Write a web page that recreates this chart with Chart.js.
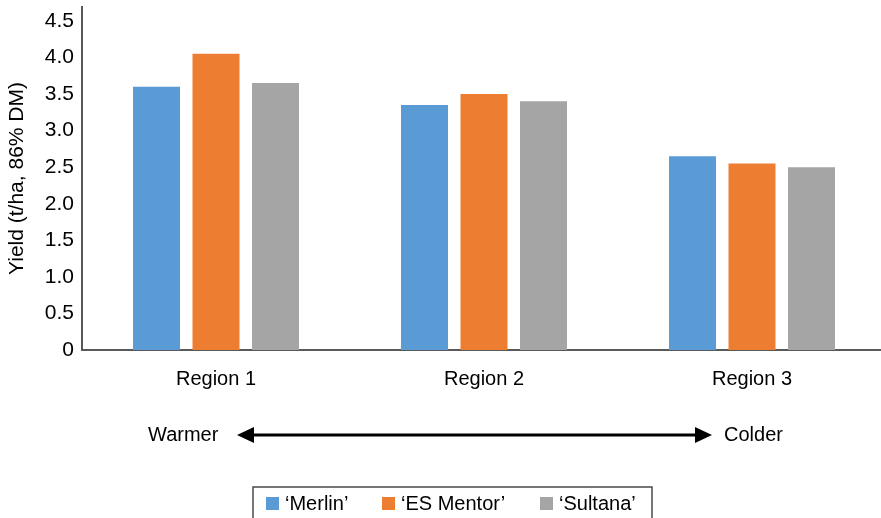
<!DOCTYPE html>
<html>
<head>
<meta charset="utf-8">
<script src="https://cdn.jsdelivr.net/npm/chart.js@4"></script>
<style>
html,body{margin:0;padding:0;overflow:hidden;background:#fff;}
#wrap{width:890px;height:518px;position:relative;}
</style>
</head>
<body>
<div id="wrap"><canvas id="c" width="890" height="518"></canvas></div>
<script>
const categories = ['Region 1', 'Region 2', 'Region 3'];
const seriesNames = ['\u2018Merlin\u2019', '\u2018ES Mentor\u2019', '\u2018Sultana\u2019'];
const merlin = [3.6, 3.35, 2.65];
const esMentor = [4.05, 3.5, 2.55];
const sultana = [3.65, 3.4, 2.5];
const yTicks = [0, 0.5, 1.0, 1.5, 2.0, 2.5, 3.0, 3.5, 4.0, 4.5];
const colors = ['#5B9BD5', '#ED7D31', '#A5A5A5'];
const FONT = '"Liberation Sans", Arial, Helvetica, sans-serif';

const extras = {
  id: 'extras',
  afterDraw(chart) {
    const ctx = chart.ctx;
    ctx.save();
    // Warmer <-> Colder arrow
    const ay = 435, x1 = 237, x2 = 712;
    ctx.strokeStyle = '#000'; ctx.fillStyle = '#000'; ctx.lineWidth = 3;
    ctx.beginPath(); ctx.moveTo(x1 + 12, ay); ctx.lineTo(x2 - 12, ay); ctx.stroke();
    ctx.beginPath(); ctx.moveTo(x1, ay); ctx.lineTo(x1 + 17, ay - 8); ctx.lineTo(x1 + 17, ay + 8); ctx.closePath(); ctx.fill();
    ctx.beginPath(); ctx.moveTo(x2, ay); ctx.lineTo(x2 - 17, ay - 8); ctx.lineTo(x2 - 17, ay + 8); ctx.closePath(); ctx.fill();
    ctx.font = '20px ' + FONT;
    ctx.textBaseline = 'middle';
    ctx.textAlign = 'left';
    ctx.fillText('Warmer', 148, ay);
    ctx.fillText('Colder', 724, ay);
    // Legend
    const lx = 253, ly = 487, lw = 399, lh = 40;
    ctx.strokeStyle = '#4a4a4a'; ctx.lineWidth = 1.5;
    ctx.strokeRect(lx, ly, lw, lh);
    const itemX = [266, 382, 540];
    chart.data.datasets.forEach((ds, i) => {
      ctx.fillStyle = ds.backgroundColor;
      ctx.fillRect(itemX[i], 497, 13, 13);
      ctx.fillStyle = '#000';
      ctx.fillText(ds.label, itemX[i] + 19, 504);
    });
    ctx.restore();
  }
};

new Chart(document.getElementById('c'), {
  type: 'bar',
  data: {
    labels: categories,
    datasets: [
      { label: seriesNames[0], data: merlin, backgroundColor: colors[0] },
      { label: seriesNames[1], data: esMentor, backgroundColor: colors[1] },
      { label: seriesNames[2], data: sultana, backgroundColor: colors[2] }
    ]
  },
  options: {
    responsive: false,
    animation: false,
    devicePixelRatio: 1,
    layout: { padding: { top: 7, right: 4, bottom: 110, left: 0 } },
    datasets: { bar: { barPercentage: 0.79, categoryPercentage: 0.666 } },
    plugins: { legend: { display: false }, tooltip: { enabled: false } },
    scales: {
      x: {
        grid: { display: false, drawTicks: false },
        border: { color: '#595959', width: 2 },
        ticks: { color: '#000', font: { size: 20, family: FONT }, padding: 17 }
      },
      y: {
        min: 0, max: 4.69,
        afterBuildTicks(scale) { scale.ticks = yTicks.map(v => ({ value: v })); },
        afterFit(scale) { scale.width = 82; scale.paddingTop = 0; scale.paddingBottom = 0; },
        grid: { display: false, drawTicks: false },
        border: { color: '#595959', width: 2 },
        ticks: {
          color: '#000', font: { size: 21, family: FONT }, padding: 8,
          callback: v => v === 0 ? '0' : Number(v).toFixed(1)
        },
        title: {
          display: true, text: 'Yield (t/ha, 86% DM)', color: '#000',
          font: { size: 21, family: FONT }, padding: { top: 5, bottom: 0 }
        }
      }
    }
  },
  plugins: [extras]
});
</script>
</body>
</html>
